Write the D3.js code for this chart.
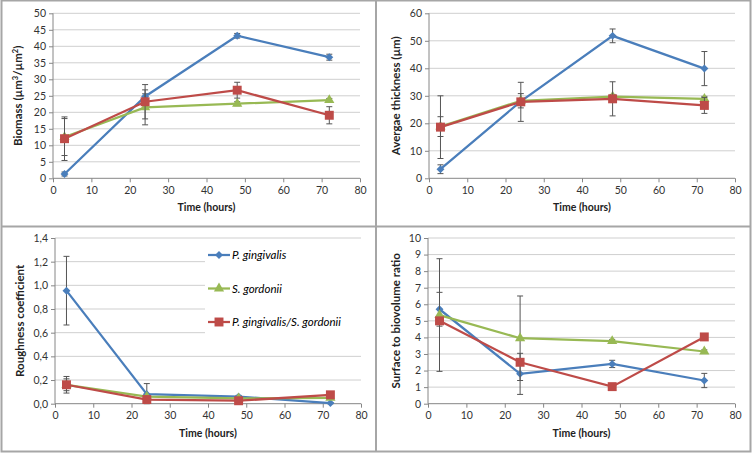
<!DOCTYPE html>
<html>
<head>
<meta charset="utf-8">
<script src="https://cdn.jsdelivr.net/npm/d3@7"></script>
<style>
  body { margin: 0; background: #fff; }
  svg { display: block; font-family: Lato, "Open Sans", sans-serif; }
</style>
</head>
<body>
<div id="chart"></div>
<script>
const times = [3, 24, 48, 72];
const seriesNames = ["P. gingivalis", "S. gordonii", "P. gingivalis/S. gordonii"];

// biomass (µm3/µm2)
const biomassPg = [1.3, 24.8, 43.2, 36.7];
const biomassPgErr = [0.6, 0.8, 0.7, 0.9];
const biomassSg = [12.5, 21.5, 22.6, 23.7];
const biomassSgErr = [5.6, 5.3, 0.6, 0.5];
const biomassMix = [12.0, 23.2, 26.7, 19.1];
const biomassMixErr = [6.6, 5.2, 2.4, 2.6];

// average thickness (µm)
const thickPg = [3.3, 28.0, 51.8, 39.9];
const thickPgErr = [1.6, 1.0, 2.5, 6.2];
const thickSg = [18.8, 28.2, 29.7, 28.9];
const thickSgErr = [3.6, 2.6, 0.8, 0.9];
const thickMix = [18.6, 27.8, 28.9, 26.5];
const thickMixErr = [11.4, 7.1, 6.2, 2.9];

// roughness coefficient
const roughPg = [0.955, 0.08, 0.06, 0.005];
const roughPgErr = [0.29, 0.09, 0.01, 0.005];
const roughSg = [0.16, 0.06, 0.045, 0.05];
const roughSgErr = [0.05, 0.01, 0.01, 0.01];
const roughMix = [0.16, 0.035, 0.025, 0.075];
const roughMixErr = [0.07, 0.01, 0.01, 0.01];

// surface to biovolume ratio
const surfPg = [5.7, 1.8, 2.4, 1.4];
const surfPgErr = [1.02, 1.24, 0.22, 0.43];
const surfSg = [5.35, 3.95, 3.78, 3.15];
const surfSgErr = [3.4, 2.55, 0.1, 0.1];
const surfMix = [5.0, 2.5, 1.03, 4.03];
const surfMixErr = [0.1, 0.1, 0.05, 0.1];

const colors = ["#4a7ebb", "#98b954", "#be4b48"];
const shapes = [d3.symbolDiamond2 || d3.symbolDiamond, d3.symbolTriangle, d3.symbolSquare];
const symSizes = [40, 45, 80];

const W = 754, H = 454;
const svg = d3.select("#chart").append("svg")
    .attr("width", W)
    .attr("height", H);

// outer frame and dividers
svg.append("rect")
    .attr("x", 1.5).attr("y", 0.5)
    .attr("width", 749).attr("height", 451)
    .attr("fill", "none")
    .attr("stroke", "#a6a6a6")
    .attr("stroke-width", 2);
svg.append("line")
    .attr("x1", 376).attr("x2", 376).attr("y1", 0).attr("y2", 452)
    .attr("stroke", "#a6a6a6").attr("stroke-width", 2);
svg.append("line")
    .attr("x1", 1).attr("x2", 751).attr("y1", 226.5).attr("y2", 226.5)
    .attr("stroke", "#a6a6a6").attr("stroke-width", 2);

const fmtComma = d => d3.format(".1f")(d).replace(".", ",");

const drawPanel = (opt) => {
    const g = svg.append("g");

    const x = d3.scaleLinear().domain([0, 80]).range([opt.left, opt.right]);
    const y = d3.scaleLinear().domain([0, opt.ymax]).range([opt.bottom, opt.top]);
    const yTicks = d3.range(0, opt.ymax + opt.ystep / 2, opt.ystep);

    // gridlines
    g.append("g")
        .selectAll("line")
        .data(yTicks.filter(t => t > 0))
        .join("line")
        .attr("x1", opt.left).attr("x2", opt.right)
        .attr("y1", d => y(d)).attr("y2", d => y(d))
        .attr("stroke", "#cfcfcf")
        .attr("stroke-width", 1);

    // legend box (covers gridlines)
    if (opt.legend) {
        const lg = g.append("g");
        lg.append("rect")
            .attr("x", opt.legend.x).attr("y", opt.legend.y)
            .attr("width", opt.legend.w).attr("height", opt.legend.h)
            .attr("fill", "#fff");
        seriesNames.forEach((name, i) => {
            const ly = opt.legend.y + 14 + i * 33.5;
            const lx = opt.legend.x + 3;
            lg.append("line")
                .attr("x1", lx).attr("x2", lx + 22)
                .attr("y1", ly).attr("y2", ly)
                .attr("stroke", colors[i]).attr("stroke-width", 2.25);
            lg.append("path")
                .attr("d", d3.symbol().type(shapes[i]).size(symSizes[i])())
                .attr("transform", `translate(${lx + 11},${ly})`)
                .attr("fill", colors[i]);
            lg.append("text")
                .attr("x", lx + 24).attr("y", ly + 4)
                .attr("font-size", 11.5)
                .attr("font-style", "italic")
                .attr("fill", "#000")
                .text(name);
        });
    }

    // axes
    const yAxis = g.append("g")
        .attr("transform", `translate(${opt.left},0)`)
        .call(d3.axisLeft(y).tickValues(yTicks).tickSize(4).tickPadding(3)
            .tickFormat(opt.comma ? fmtComma : d3.format("d")));
    const xAxis = g.append("g")
        .attr("transform", `translate(0,${opt.bottom})`)
        .call(d3.axisBottom(x).tickValues(d3.range(0, 81, 10)).tickSize(4).tickPadding(4));
    [xAxis, yAxis].forEach(a => {
        a.select(".domain").attr("stroke", "#868686").attr("stroke-width", 1);
        a.selectAll(".tick line").attr("stroke", "#868686");
        a.selectAll(".tick text")
            .attr("font-size", 10.5)
            .attr("fill", "#333")
            .attr("font-family", "Lato, 'Open Sans', sans-serif");
    });
    // remove the outer tick ends of the domain path
    yAxis.select(".domain").attr("d", `M0,${opt.top}V${opt.bottom}`);
    xAxis.select(".domain").attr("d", `M${opt.left},0H${opt.right}`);

    // axis titles
    g.append("text")
        .attr("x", (opt.left + opt.right) / 2)
        .attr("y", opt.bottom + 33)
        .attr("text-anchor", "middle")
        .attr("font-size", 10.5)
        .attr("font-weight", "bold")
        .attr("fill", "#222")
        .text("Time (hours)");

    const yt = g.append("text")
        .attr("transform", `translate(${opt.titleX},${(opt.top + opt.bottom) / 2}) rotate(-90)`)
        .attr("text-anchor", "middle")
        .attr("font-size", 11.5)
        .attr("font-weight", "bold")
        .attr("fill", "#222");
    opt.title.forEach(part => {
        const ts = yt.append("tspan").text(part.t);
        if (part.sup) ts.attr("baseline-shift", "super").attr("font-size", 7.5);
    });

    // series
    opt.series.forEach((s, i) => {
        const pts = times.map((t, j) => ({ t, v: s.values[j], e: s.errors[j] }));
        const sg = g.append("g");

        // error bars
        sg.selectAll(".err")
            .data(pts)
            .join("g")
            .attr("class", "err")
            .each(function(d) {
                const eg = d3.select(this);
                const cx = x(d.t), y1 = y(d.v + d.e), y2 = y(Math.max(0, d.v - d.e));
                eg.append("line").attr("x1", cx).attr("x2", cx).attr("y1", y1).attr("y2", y2);
                eg.append("line").attr("x1", cx - 3).attr("x2", cx + 3).attr("y1", y1).attr("y2", y1);
                eg.append("line").attr("x1", cx - 3).attr("x2", cx + 3).attr("y1", y2).attr("y2", y2);
            })
            .attr("stroke", "#555")
            .attr("stroke-width", 1);

        sg.append("path")
            .datum(pts)
            .attr("d", d3.line().x(d => x(d.t)).y(d => y(d.v)))
            .attr("fill", "none")
            .attr("stroke", colors[i])
            .attr("stroke-width", 2.25);

        sg.selectAll(".mark")
            .data(pts)
            .join("path")
            .attr("class", "mark")
            .attr("d", d3.symbol().type(shapes[i]).size(symSizes[i])())
            .attr("transform", d => `translate(${x(d.t)},${y(d.v)})`)
            .attr("fill", colors[i]);
    });
};

drawPanel({
    left: 53, right: 360, top: 13.3, bottom: 178.3,
    ymax: 50, ystep: 5, titleX: 22,
    title: [{ t: "Biomass (µm" }, { t: "3", sup: true }, { t: "/µm" }, { t: "2", sup: true }, { t: ")" }],
    series: [
        { values: biomassPg, errors: biomassPgErr },
        { values: biomassSg, errors: biomassSgErr },
        { values: biomassMix, errors: biomassMixErr }
    ]
});

drawPanel({
    left: 429, right: 735, top: 13.3, bottom: 178.3,
    ymax: 60, ystep: 10, titleX: 400,
    title: [{ t: "Avergae thickness (µm)" }],
    series: [
        { values: thickPg, errors: thickPgErr },
        { values: thickSg, errors: thickSgErr },
        { values: thickMix, errors: thickMixErr }
    ]
});

drawPanel({
    left: 55, right: 361, top: 238, bottom: 403.7,
    ymax: 1.4, ystep: 0.2, titleX: 24, comma: true,
    title: [{ t: "Roughness coefficient" }],
    legend: { x: 205, y: 241, w: 156, h: 100 },
    series: [
        { values: roughPg, errors: roughPgErr },
        { values: roughSg, errors: roughSgErr },
        { values: roughMix, errors: roughMixErr }
    ]
});

drawPanel({
    left: 428, right: 735, top: 238, bottom: 403.7,
    ymax: 10, ystep: 1, titleX: 400,
    title: [{ t: "Surface to biovolume ratio" }],
    series: [
        { values: surfPg, errors: surfPgErr },
        { values: surfSg, errors: surfSgErr },
        { values: surfMix, errors: surfMixErr }
    ]
});
</script>
</body>
</html>
